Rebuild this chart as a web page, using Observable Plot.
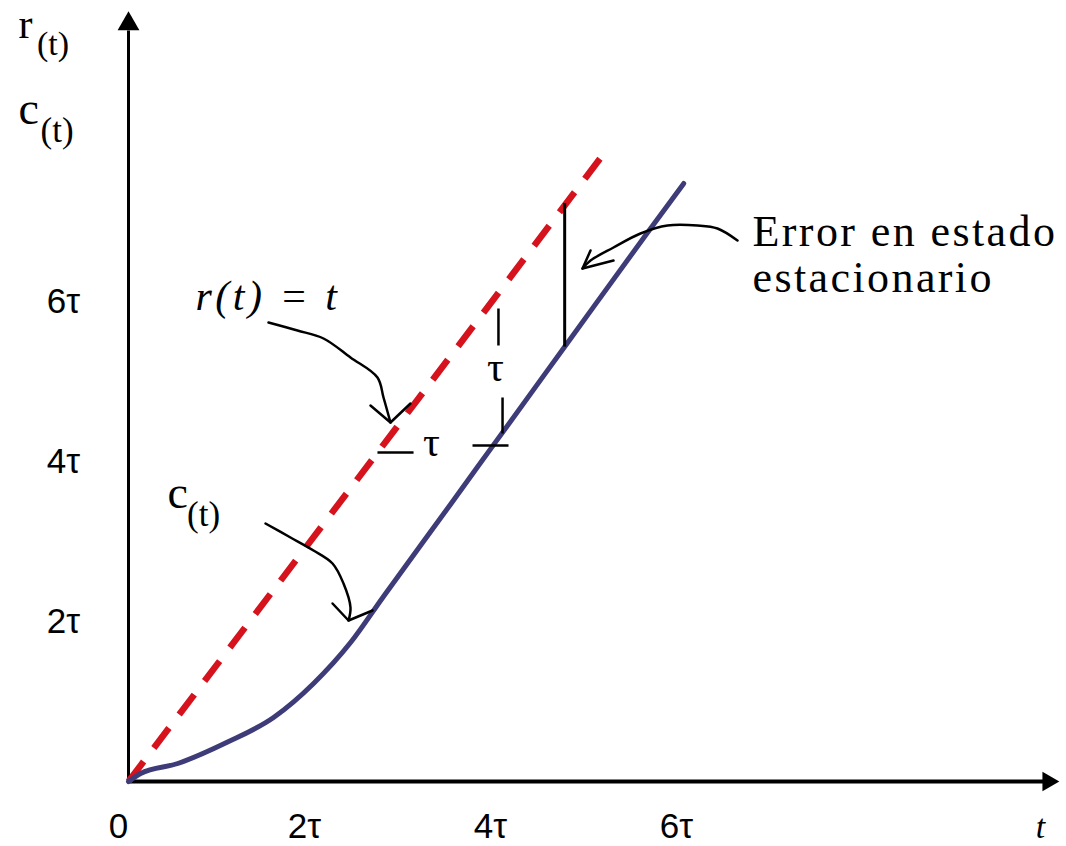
<!DOCTYPE html>
<html><head><meta charset="utf-8">
<script src="https://cdn.jsdelivr.net/npm/d3@7"></script>
<script src="https://cdn.jsdelivr.net/npm/@observablehq/plot@0.6"></script>
<style>body{margin:0;background:#fff}#chart svg{display:block}</style>
</head><body><div id="chart"></div>
<script>
// ticks (units of tau)
const xTicks = [0, 2, 4, 6];
const xTickLabels = ["0", "2τ", "4τ", "6τ"];
const yTicks = [2, 4, 6];
const yTickLabels = ["2τ", "4τ", "6τ"];

// r(t) = t  (ramp input), red dashed
const rT = [0, 5.08];
const rV = [0, 7.8];

// c(t) response, blue
const cT = [0, 0.13, 0.53, 1.06, 1.56, 1.99, 2.39, 2.74, 3.46, 3.97, 4.70, 5.58, 5.97];
const cV = [0, 0.10, 0.225, 0.49, 0.80, 1.225, 1.74, 2.31, 3.46, 4.28, 5.45, 6.86, 7.475];

// steady-state error segment
const errT = [4.69];
const errFrom = [5.43];
const errTo = [7.225];

// tau markers (x1, y1, x2, y2)
const tauX1 = [3.978, 4.022, 3.699, 2.677];
const tauY1 = [5.9125, 4.8, 4.2, 4.1125];
const tauX2 = [3.978, 4.022, 4.086, 3.065];
const tauY2 = [5.45, 4.35, 4.2, 4.1125];

// annotation arrows
const arrowR_T = [1.505, 1.817, 2.097, 2.387, 2.677, 2.742, 2.817];
const arrowR_V = [5.7375, 5.6375, 5.5375, 5.3, 5.05, 4.8, 4.4875];
const headR_T = [2.602, 2.817, 3.032];
const headR_V = [4.7, 4.4875, 4.725];

const arrowC_T = [1.473, 1.742, 1.989, 2.194, 2.312, 2.387, 2.366];
const arrowC_V = [3.225, 3.05, 2.8875, 2.725, 2.475, 2.175, 2.0125];
const headC_T = [2.194, 2.366, 2.624];
const headC_V = [2.225, 2.0125, 2.1375];

const arrowE_T = [6.548, 6.333, 6.118, 5.796, 5.505, 5.215, 4.968, 4.882];
const arrowE_V = [6.7625, 6.9125, 6.95, 6.95, 6.85, 6.675, 6.5125, 6.4125];
const headE_T = [4.968, 4.882, 5.215];
const headE_V = [6.6375, 6.4125, 6.5125];

const zip = (a, b) => a.map((v, i) => ({x: v, y: b[i]}));

const rData = zip(rT, rV);
const cData = zip(cT, cV);
const tauLinks = tauX1.map((v, i) => ({x1: v, y1: tauY1[i], x2: tauX2[i], y2: tauY2[i]}));

const serif = "Liberation Serif, Times New Roman, serif";
const sans = "Liberation Sans, Arial, sans-serif";
const ink = "#000";

const chart = Plot.plot({
  width: 1066,
  height: 846,
  margin: 0,
  x: {domain: [0, 10], range: [128, 1058], axis: null},
  y: {domain: [0, 9.75], range: [781, 1], axis: null},
  marks: [
    // axes
    Plot.ruleY([0], {x1: 0, x2: 9.9, stroke: ink, strokeWidth: 4}),
    Plot.ruleX([0], {y1: 0, y2: 9.38, stroke: ink, strokeWidth: 3}),
    Plot.dot([{x: 0, y: 9.47}], {x: "x", y: "y", symbol: "triangle2", r: 10.4, fill: ink, stroke: "none"}),
    Plot.dot([{x: 9.888, y: 0}], {x: "x", y: "y", symbol: "triangle2", r: 9.3, fill: ink, stroke: "none", rotate: 90}),
    // tick labels
    Plot.text(xTicks, {x: d => d, y: () => -0.7, text: (d, i) => xTickLabels[i], textAnchor: "middle", lineAnchor: "bottom", dx: -10, fontFamily: sans, fontSize: 35, fill: ink}),
    Plot.text(yTicks, {x: () => -0.7, y: d => d, text: (d, i) => yTickLabels[i], textAnchor: "middle", lineAnchor: "middle", fontFamily: sans, fontSize: 35, fill: ink}),
    Plot.text([{x: 9.806, y: -0.7}], {x: "x", y: "y", text: () => "t", textAnchor: "middle", lineAnchor: "bottom", fontFamily: serif, fontStyle: "italic", fontSize: 34, fill: ink}),
    // axis titles r(t), c(t)
    Plot.text([{x: -1.183, y: 9.29}], {x: "x", y: "y", text: () => "r", textAnchor: "start", lineAnchor: "bottom", fontFamily: serif, fontSize: 42, fill: ink}),
    Plot.text([{x: -0.985, y: 9.08}], {x: "x", y: "y", text: () => "(t)", textAnchor: "start", lineAnchor: "bottom", fontFamily: serif, fontSize: 34, fill: ink}),
    Plot.text([{x: -1.183, y: 8.225}], {x: "x", y: "y", text: () => "c", textAnchor: "start", lineAnchor: "bottom", fontFamily: serif, fontSize: 46, fill: ink}),
    Plot.text([{x: -0.946, y: 8.0}], {x: "x", y: "y", text: () => "(t)", textAnchor: "start", lineAnchor: "bottom", fontFamily: serif, fontSize: 35, fill: ink}),
    // curves
    Plot.line(rData, {x: "x", y: "y", stroke: "#d6121c", strokeWidth: 6.5, strokeDasharray: "25,17", strokeLinecap: "butt"}),
    Plot.line(cData, {x: "x", y: "y", curve: "monotone-x", stroke: "#3e3b79", strokeWidth: 5}),
    // steady-state error
    Plot.ruleX(errT, {x: d => d, y1: (d, i) => errFrom[i], y2: (d, i) => errTo[i], stroke: ink, strokeWidth: 3}),
    // tau markers
    Plot.link(tauLinks, {x1: "x1", y1: "y1", x2: "x2", y2: "y2", stroke: ink, strokeWidth: 2.5}),
    Plot.text([{x: 3.946, y: 5.0125}], {x: "x", y: "y", text: () => "τ", textAnchor: "middle", lineAnchor: "bottom", fontFamily: serif, fontSize: 42, fill: ink}),
    Plot.text([{x: 3.258, y: 4.075}], {x: "x", y: "y", text: () => "τ", textAnchor: "middle", lineAnchor: "bottom", fontFamily: serif, fontSize: 42, fill: ink}),
    // annotations
    Plot.line(zip(arrowR_T, arrowR_V), {x: "x", y: "y", curve: "catmull-rom", stroke: ink, strokeWidth: 2.5}),
    Plot.line(zip(headR_T, headR_V), {x: "x", y: "y", stroke: ink, strokeWidth: 2.5}),
    Plot.line(zip(arrowC_T, arrowC_V), {x: "x", y: "y", curve: "catmull-rom", stroke: ink, strokeWidth: 2.5}),
    Plot.line(zip(headC_T, headC_V), {x: "x", y: "y", stroke: ink, strokeWidth: 2.5}),
    Plot.line(zip(arrowE_T, arrowE_V), {x: "x", y: "y", curve: "catmull-rom", stroke: ink, strokeWidth: 2.5}),
    Plot.line(zip(headE_T, headE_V), {x: "x", y: "y", stroke: ink, strokeWidth: 2.5}),
    Plot.text([{x: 0.72, y: 5.89}], {x: "x", y: "y", text: () => "r(t) = t", textAnchor: "start", lineAnchor: "bottom", fontFamily: serif, fontStyle: "italic", fontSize: 42, fill: ink}),
    Plot.text([{x: 0.419, y: 3.425}], {x: "x", y: "y", text: () => "c", textAnchor: "start", lineAnchor: "bottom", fontFamily: serif, fontSize: 46, fill: ink}),
    Plot.text([{x: 0.63, y: 3.2}], {x: "x", y: "y", text: () => "(t)", textAnchor: "start", lineAnchor: "bottom", fontFamily: serif, fontSize: 35, fill: ink}),
    Plot.text([{x: 6.71, y: 6.7}], {x: "x", y: "y", text: () => "Error en estado", textAnchor: "start", lineAnchor: "bottom", fontFamily: serif, fontSize: 44, fill: ink}),
    Plot.text([{x: 6.71, y: 6.125}], {x: "x", y: "y", text: () => "estacionario", textAnchor: "start", lineAnchor: "bottom", fontFamily: serif, fontSize: 44, fill: ink})
  ]
});
d3.select(chart).selectAll("text").each(function() {
  const s = this.textContent;
  if (s === "Error en estado" || s === "estacionario") this.setAttribute("letter-spacing", "2.4");
  if (s === "r(t) = t") this.setAttribute("letter-spacing", "3.5");
});
document.getElementById("chart").appendChild(chart);
</script>
</body></html>
